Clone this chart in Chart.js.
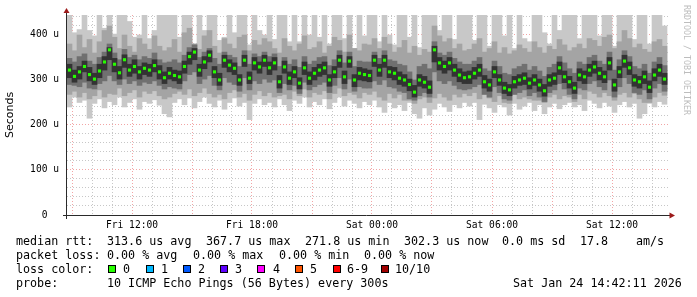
<!DOCTYPE html>
<html>
<head>
<meta charset="utf-8">
<title>smokeping latency</title>
<script src="https://cdn.jsdelivr.net/npm/chart.js@4/dist/chart.umd.min.js"></script>
<style>
  html, body { margin: 0; padding: 0; background: #fff; }
  #wrap { position: relative; width: 697px; height: 297px; overflow: hidden; }
  #graph { position: absolute; left: 0; top: 0; }
  .row { position: absolute; left: 0; width: 697px; height: 14px; font: 11.7px/14px "DejaVu Sans Mono", monospace; color: #000; }
  .row span { position: absolute; top: 0; white-space: pre; }
  .row i { position: absolute; top: 3px; width: 6px; height: 6px; border: 1px solid #000; }
  #mark { position: absolute; left: 682px; top: 5px; writing-mode: vertical-rl; font: 8.3px "DejaVu Sans Mono", monospace; color: #bdbdbd; white-space: pre; }
</style>
</head>
<body>
<div id="wrap">
  <canvas id="graph" width="697" height="297"></canvas>
  <div id="mark">RRDTOOL / TOBI OETIKER</div>

  <div class="row" style="top:234px">
    <span style="left:16px">median rtt:</span>
    <span style="left:107px">313.6 us avg</span>
    <span style="left:206px">367.7 us max</span>
    <span style="left:305px">271.8 us min</span>
    <span style="left:404px">302.3 us now</span>
    <span style="left:502px">0.0 ms sd</span>
    <span style="left:580px">17.8</span>
    <span style="left:636px">am/s</span>
  </div>
  <div class="row" style="top:248px">
    <span style="left:16px">packet loss:</span>
    <span style="left:107px">0.00 % avg</span>
    <span style="left:193px">0.00 % max</span>
    <span style="left:279px">0.00 % min</span>
    <span style="left:364px">0.00 % now</span>
  </div>
  <div class="row" style="top:262px">
    <span style="left:16px">loss color:</span>
    <i style="left:108px;background:#26ff00"></i><span style="left:123px">0</span>
    <i style="left:146px;background:#00b8ff"></i><span style="left:161px">1</span>
    <i style="left:183px;background:#0059ff"></i><span style="left:198px">2</span>
    <i style="left:220px;background:#5e00ff"></i><span style="left:235px">3</span>
    <i style="left:257px;background:#ff00ff"></i><span style="left:273px">4</span>
    <i style="left:295px;background:#ff5500"></i><span style="left:310px">5</span>
    <i style="left:333px;background:#ff0000"></i><span style="left:347px">6-9</span>
    <i style="left:381px;background:#a10000"></i><span style="left:395px">10/10</span>
  </div>
  <div class="row" style="top:276px">
    <span style="left:16px">probe:</span>
    <span style="left:107px">10 ICMP Echo Pings (56 Bytes) every 300s</span>
    <span style="left:513px">Sat Jan 24 14:42:11 2026</span>
  </div>
</div>
<script>
// one sample per 15 minutes, hours counted from Fri 00:00
const startHour = 8.875;
const stepHour = 0.25;

// median rtt (us)
const median = [
  322, 308, 318, 330, 312, 302, 320, 340, 367, 335, 316, 345, 322, 330, 318, 326, 322, 332, 318, 305,
  315, 310, 307, 330, 352, 362, 322, 340, 355, 318, 300, 344, 333, 326, 300, 344, 304, 338, 329, 344,
  327, 338, 296, 329, 304, 318, 293, 327, 304, 315, 322, 327, 300, 318, 344, 307, 342, 300, 315, 312,
  310, 344, 322, 344, 318, 315, 304, 300, 290, 273, 300, 295, 284, 367, 338, 330, 338, 322, 311, 305,
  307, 315, 322, 296, 289, 318, 300, 282, 278, 296, 300, 304, 293, 300, 289, 276, 300, 304, 327, 307,
  296, 282, 311, 307, 322, 329, 315, 307, 338, 289, 318, 342, 327, 300, 296, 307, 284, 311, 322, 302
];

// smoke: pings 4 and 7 (darkest)
const smoke4Hi = [
  335, 322, 330, 342, 328, 315, 335, 352, 372, 348, 330, 356, 335, 345, 330, 338, 335, 345, 332, 318,
  328, 322, 320, 342, 362, 370, 335, 352, 365, 330, 315, 355, 345, 338, 312, 355, 318, 350, 340, 355,
  340, 350, 310, 342, 318, 330, 305, 340, 318, 328, 335, 340, 312, 330, 355, 320, 352, 312, 328, 325,
  322, 355, 335, 355, 330, 328, 318, 312, 302, 288, 312, 308, 298, 375, 350, 342, 350, 335, 325, 318,
  320, 328, 335, 310, 302, 330, 312, 295, 290, 308, 312, 316, 305, 312, 302, 290, 312, 316, 340, 320,
  308, 295, 325, 320, 335, 342, 328, 320, 350, 302, 330, 355, 340, 312, 308, 320, 298, 325, 335, 315
];
const smoke4Lo = [
  305, 295, 302, 318, 298, 290, 305, 322, 345, 318, 302, 328, 308, 315, 302, 312, 308, 318, 302, 292,
  302, 298, 292, 315, 335, 345, 308, 325, 340, 305, 288, 328, 318, 312, 288, 330, 292, 322, 315, 330,
  312, 322, 282, 315, 290, 305, 280, 312, 290, 300, 308, 312, 286, 305, 328, 292, 328, 285, 300, 298,
  296, 330, 308, 328, 305, 300, 290, 286, 276, 262, 286, 282, 270, 340, 322, 315, 322, 308, 296, 292,
  292, 302, 308, 282, 275, 305, 288, 270, 265, 282, 288, 290, 280, 288, 275, 264, 286, 290, 312, 294,
  282, 270, 298, 292, 308, 315, 300, 294, 322, 275, 305, 328, 312, 286, 282, 292, 272, 298, 308, 290
];

// smoke: pings 3 and 8
const smoke3Hi = [
  348, 340, 352, 358, 342, 335, 350, 362, 380, 360, 345, 368, 350, 355, 345, 352, 348, 360, 345, 338,
  340, 345, 338, 355, 372, 378, 350, 362, 370, 348, 335, 362, 355, 350, 330, 365, 335, 358, 352, 362,
  352, 358, 330, 350, 335, 345, 328, 352, 335, 342, 350, 352, 332, 345, 365, 338, 362, 330, 342, 340,
  340, 362, 348, 365, 345, 342, 335, 332, 318, 300, 330, 335, 325, 385, 360, 355, 362, 348, 340, 335,
  335, 342, 350, 325, 320, 342, 330, 315, 312, 325, 330, 335, 322, 330, 320, 308, 328, 335, 352, 338,
  325, 315, 340, 335, 350, 355, 342, 335, 362, 322, 345, 365, 352, 330, 325, 335, 315, 340, 350, 332
];
const smoke3Lo = [
  290, 288, 285, 295, 282, 280, 292, 298, 310, 298, 290, 302, 292, 298, 288, 295, 292, 298, 288, 280,
  285, 282, 280, 298, 312, 318, 292, 302, 310, 288, 278, 305, 295, 290, 275, 305, 278, 298, 292, 302,
  295, 300, 272, 292, 278, 288, 270, 295, 278, 285, 290, 295, 272, 288, 305, 280, 302, 275, 285, 282,
  282, 298, 290, 300, 285, 282, 275, 272, 258, 255, 265, 272, 262, 318, 298, 292, 298, 288, 280, 278,
  280, 285, 290, 268, 262, 285, 272, 258, 255, 268, 272, 278, 265, 272, 262, 252, 272, 278, 292, 280,
  268, 258, 282, 278, 292, 298, 285, 278, 300, 262, 285, 305, 292, 272, 268, 278, 258, 282, 292, 275
];

// smoke: pings 2 and 9
const smoke2Hi = [
  380, 365, 400, 372, 390, 360, 385, 410, 420, 395, 370, 400, 375, 362, 392, 380, 368, 398, 375, 365,
  372, 390, 362, 405, 415, 380, 368, 398, 410, 375, 360, 392, 380, 370, 395, 400, 365, 388, 378, 392,
  385, 370, 360, 392, 375, 365, 380, 398, 368, 372, 385, 360, 375, 395, 388, 362, 400, 370, 365, 380,
  378, 392, 370, 395, 380, 362, 372, 388, 360, 375, 355, 368, 362, 420, 398, 385, 392, 370, 380, 365,
  368, 380, 392, 362, 370, 385, 360, 372, 358, 365, 378, 370, 362, 385, 372, 360, 375, 368, 390, 378,
  365, 372, 380, 370, 392, 388, 375, 395, 400, 370, 385, 410, 392, 372, 380, 368, 362, 385, 390, 375
];
const smoke2Lo = [
  268, 275, 262, 272, 258, 265, 278, 262, 270, 268, 282, 265, 272, 278, 262, 275, 270, 276, 265, 258,
  262, 270, 275, 268, 280, 265, 272, 282, 270, 262, 268, 258, 272, 278, 262, 270, 255, 268, 276, 265,
  272, 262, 265, 268, 258, 275, 265, 280, 262, 272, 268, 276, 258, 270, 282, 265, 272, 268, 260, 272,
  268, 275, 262, 255, 270, 260, 268, 255, 255, 248, 258, 262, 250, 260, 270, 262, 255, 268, 262, 270,
  265, 272, 258, 268, 260, 252, 265, 250, 248, 268, 258, 262, 258, 255, 255, 250, 262, 268, 258, 265,
  262, 252, 268, 258, 275, 270, 262, 272, 265, 255, 268, 272, 262, 270, 258, 250, 250, 262, 272, 266
];

// smoke: min and max of the 10 pings (lightest); 450 = off the top of the graph
const smoke1Hi = [
  450, 405, 412, 450, 410, 398, 450, 415, 450, 402, 450, 450, 430, 395, 400, 450, 392, 410, 450, 450,
  450, 450, 395, 450, 450, 380, 450, 410, 450, 450, 388, 395, 450, 405, 450, 450, 378, 450, 410, 400,
  450, 390, 450, 450, 385, 450, 385, 450, 400, 450, 395, 450, 380, 450, 450, 392, 450, 370, 450, 398,
  450, 450, 385, 450, 400, 378, 450, 450, 395, 450, 372, 450, 450, 450, 410, 450, 450, 390, 450, 450,
  450, 388, 450, 450, 375, 450, 450, 398, 450, 370, 450, 392, 385, 450, 450, 405, 380, 450, 410, 450,
  450, 450, 392, 450, 450, 450, 398, 450, 450, 375, 450, 450, 450, 390, 450, 450, 380, 450, 450, 420
];
const smoke1Lo = [
  240, 262, 250, 255, 215, 248, 258, 238, 252, 245, 262, 240, 250, 258, 235, 252, 248, 256, 244, 225,
  218, 250, 258, 245, 260, 238, 252, 262, 248, 240, 255, 235, 250, 260, 242, 250, 212, 248, 258, 245,
  250, 240, 258, 245, 232, 255, 248, 262, 240, 252, 245, 258, 236, 250, 262, 242, 255, 248, 238, 252,
  245, 255, 240, 228, 250, 238, 245, 232, 250, 225, 215, 238, 222, 235, 248, 240, 230, 245, 238, 250,
  242, 250, 212, 246, 238, 228, 245, 240, 222, 248, 235, 242, 250, 232, 245, 225, 240, 248, 236, 245,
  250, 240, 245, 232, 255, 248, 238, 250, 242, 228, 245, 252, 240, 248, 215, 225, 248, 240, 252, 246
];

const yMajorValues = [0, 100, 200, 300, 400];
const yMajorLabels = ['0  ', '100 u', '200 u', '300 u', '400 u'];
const xMajorHours = [12, 18, 24, 30, 36];
const xMajorLabels = ['Fri 12:00', 'Fri 18:00', 'Sat 00:00', 'Sat 06:00', 'Sat 12:00'];

const times = median.map((_, i) => startHour + i * stepHour);

const gridMajor = 'rgba(225,40,40,0.42)';
const gridMinor = 'rgba(130,130,130,0.45)';

function band(lo, hi, color, order) {
  return {
    type: 'bar',
    data: times.map((t, i) => ({ x: t, y: [lo[i], hi[i]] })),
    backgroundColor: color,
    borderWidth: 0,
    grouped: false,
    barPercentage: 1,
    categoryPercentage: 1,
    order: order
  };
}

// draws the rrdtool style axes with the small dark red arrows
const axisArrows = {
  id: 'axisArrows',
  afterDraw(chart) {
    const { ctx, chartArea: a } = chart;
    ctx.save();
    ctx.strokeStyle = '#2a2a2a';
    ctx.lineWidth = 1;
    ctx.beginPath();
    ctx.moveTo(a.left - 4, a.bottom + 0.5);
    ctx.lineTo(a.right + 1, a.bottom + 0.5);
    ctx.moveTo(a.left - 0.5, a.bottom + 4);
    ctx.lineTo(a.left - 0.5, a.top - 3);
    ctx.stroke();
    ctx.fillStyle = '#9c1a1a';
    ctx.beginPath();
    ctx.moveTo(a.left - 0.5, a.top - 7);
    ctx.lineTo(a.left - 3.5, a.top - 2);
    ctx.lineTo(a.left + 2.5, a.top - 2);
    ctx.closePath();
    ctx.fill();
    ctx.beginPath();
    ctx.moveTo(a.right + 6, a.bottom + 0.5);
    ctx.lineTo(a.right + 0.5, a.bottom - 2.5);
    ctx.lineTo(a.right + 0.5, a.bottom + 3.5);
    ctx.closePath();
    ctx.fill();
    ctx.restore();
  }
};

new Chart(document.getElementById('graph'), {
  type: 'bar',
  data: {
    datasets: [
      {
        type: 'line',
        data: times.map((t, i) => ({ x: t, y: median[i] })),
        showLine: false,
        pointStyle: 'rect',
        pointRadius: 2.2,
        pointBackgroundColor: '#26ff00',
        pointBorderWidth: 0,
        order: 0
      },
      band(smoke4Lo, smoke4Hi, '#333333', 1),
      band(smoke3Lo, smoke3Hi, '#707070', 2),
      band(smoke2Lo, smoke2Hi, '#a4a4a4', 3),
      band(smoke1Lo, smoke1Hi, '#c8c8c8', 4)
    ]
  },
  options: {
    responsive: false,
    animation: false,
    devicePixelRatio: 1,
    layout: { padding: { left: 0, top: 15, right: 28, bottom: 0 } },
    plugins: { legend: { display: false }, tooltip: { enabled: false } },
    scales: {
      x: {
        type: 'linear',
        min: 8.75,
        max: 38.85,
        offset: false,
        z: 1,
        afterBuildTicks: s => {
          s.ticks = [];
          for (let h = 9; h <= 38; h++) s.ticks.push({ value: h });
        },
        grid: {
          offset: false,
          drawTicks: false,
          color: c => (c.tick.value % 3 === 0 ? gridMajor : gridMinor)
        },
        border: { display: false, dash: [1, 2] },
        ticks: {
          autoSkip: false,
          maxRotation: 0,
          padding: 5,
          color: '#000',
          font: { family: 'DejaVu Sans Mono', size: 9.6 },
          callback: v => {
            const k = xMajorHours.indexOf(v);
            return k < 0 ? '' : xMajorLabels[k];
          }
        },
        afterFit: s => { s.height = 82; }
      },
      y: {
        min: 0,
        max: 444.4,
        z: 1,
        afterBuildTicks: s => {
          s.ticks = [];
          for (let v = 0; v <= 440; v += 20) s.ticks.push({ value: v });
        },
        grid: {
          drawTicks: false,
          color: c => (c.tick.value === 0 ? 'rgba(0,0,0,0)' : c.tick.value % 100 === 0 ? gridMajor : gridMinor)
        },
        border: { display: false, dash: [1, 2] },
        ticks: {
          autoSkip: false,
          padding: 8,
          color: '#000',
          font: { family: 'DejaVu Sans Mono', size: 9.6 },
          callback: v => {
            const k = yMajorValues.indexOf(v);
            return k < 0 ? '' : yMajorLabels[k];
          }
        },
        title: {
          display: true,
          text: 'Seconds',
          color: '#000',
          font: { family: 'DejaVu Sans', size: 11 },
          padding: { top: 4, bottom: 0 }
        },
        afterFit: s => { s.width = 67; }
      }
    }
  },
  plugins: [axisArrows]
});
</script>
</body>
</html>
